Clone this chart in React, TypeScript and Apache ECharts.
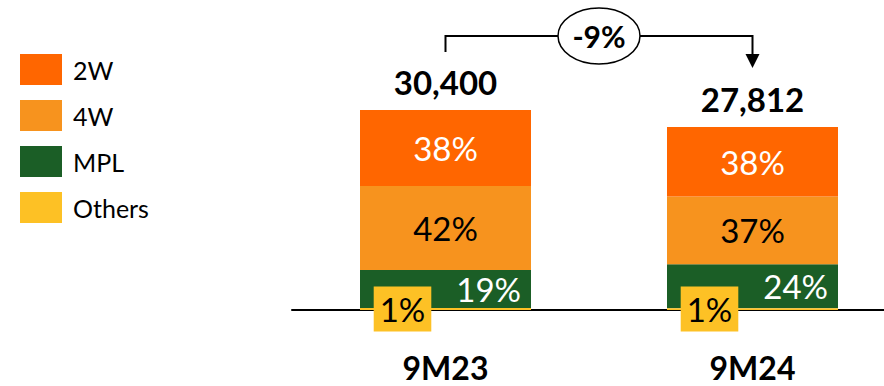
import React, { useEffect, useRef } from "react";
import * as echarts from "echarts";

// Periods and total volumes
const categories = ["9M23", "9M24"];
const totals = [30400, 27812];

// Segment shares (%) per period
const share2W = [38, 38];
const share4W = [42, 37];
const shareMPL = [19, 24];
const shareOthers = [1, 1];

const seriesNames = ["2W", "4W", "MPL", "Others"];
const colors = ["#FF6600", "#F7931E", "#1B5E26", "#FDC125"];

const FONT = "Lato, 'Noto Sans', sans-serif";

const toValues = (shares: number[]) =>
  shares.map((s, i) => ({ value: (totals[i] * s) / 100, pct: s }));

export default function App() {
  const ref = useRef<HTMLDivElement>(null);

  useEffect(() => {
    if (!ref.current) return;
    const chart = echarts.init(ref.current, null, { renderer: "svg" });

    const pctLabel = (color: string, extra: any = {}) => ({
      show: true,
      color,
      fontSize: 33,
      fontFamily: FONT,
      formatter: (p: any) => `${p.data.pct}%`,
      ...extra,
    });

    const barBase = {
      type: "bar" as const,
      stack: "total",
      barWidth: 171,
    };

    chart.setOption({
      animation: false,
      textStyle: { fontFamily: FONT },
      legend: {
        orient: "vertical",
        left: 20,
        top: 54,
        padding: 0,
        itemWidth: 42,
        itemHeight: 31,
        itemGap: 15,
        icon: "rect",
        data: seriesNames,
        selectedMode: false,
        textStyle: {
          fontSize: 25,
          color: "#000",
          fontFamily: FONT,
          padding: [0, 0, 0, 6],
        },
      },
      // The grid runs past the right edge so the baseline reaches the border
      grid: {
        left: 292,
        width: 614,
        top: 110,
        bottom: 76,
        containLabel: false,
        outerBoundsMode: "none",
      },
      xAxis: {
        type: "category",
        data: categories,
        axisTick: { show: false },
        axisLine: { lineStyle: { color: "#000", width: 2 } },
        axisLabel: {
          color: "#000",
          fontSize: 32,
          fontWeight: "bold",
          fontFamily: FONT,
          margin: 41,
        },
      },
      yAxis: {
        type: "value",
        min: 0,
        max: Math.max(...totals),
        show: false,
        splitLine: { show: false },
      },
      series: [
        {
          ...barBase,
          name: "Others",
          data: toValues(shareOthers),
          itemStyle: { color: colors[3] },
          z: 5,
          label: pctLabel("#000", {
            position: "inside",
            offset: [-43, 0],
            backgroundColor: colors[3],
            padding: [6, 6, 6, 6],
            lineHeight: 33,
          }),
        },
        {
          ...barBase,
          name: "MPL",
          data: toValues(shareMPL),
          itemStyle: { color: colors[2] },
          label: pctLabel("#fff", { position: "insideRight", distance: 10 }),
        },
        {
          ...barBase,
          name: "4W",
          data: toValues(share4W),
          itemStyle: { color: colors[1] },
          label: pctLabel("#000", { position: "inside" }),
        },
        {
          ...barBase,
          name: "2W",
          data: toValues(share2W),
          itemStyle: { color: colors[0] },
          label: pctLabel("#fff", { position: "inside" }),
        },
        {
          ...barBase,
          name: "Total",
          data: totals.map((t) => ({ value: 0, total: t })),
          itemStyle: { color: "transparent" },
          label: {
            show: true,
            position: "top",
            distance: 12,
            color: "#000",
            fontSize: 33,
            fontWeight: "bold",
            fontFamily: FONT,
            formatter: (p: any) => p.data.total.toLocaleString("en-US"),
          },
        },
      ],
    });

    // Change bracket between the two bars
    const x1 = chart.convertToPixel({ xAxisIndex: 0 }, categories[0]) as number;
    const x2 = chart.convertToPixel({ xAxisIndex: 0 }, categories[1]) as number;
    const mid = (x1 + x2) / 2;
    const change = Math.round((totals[1] / totals[0] - 1) * 100);
    const yLine = 36;

    chart.setOption({
      graphic: [
        {
          type: "polyline",
          shape: {
            points: [
              [x1, 52],
              [x1, yLine],
              [x2, yLine],
              [x2, 56],
            ],
          },
          style: { stroke: "#000", lineWidth: 2, fill: null },
        },
        {
          type: "polygon",
          shape: {
            points: [
              [x2 - 7, 54],
              [x2 + 7, 54],
              [x2, 68],
            ],
          },
          style: { fill: "#000" },
        },
        {
          type: "ellipse",
          shape: { cx: mid, cy: yLine, rx: 41, ry: 28 },
          style: { fill: "#fff", stroke: "#000", lineWidth: 1.5 },
        },
        {
          type: "text",
          x: mid,
          y: yLine,
          style: {
            text: `${change}%`,
            fontSize: 30,
            fontWeight: "bold",
            fontFamily: FONT,
            fill: "#000",
            align: "center",
            verticalAlign: "middle",
          },
        },
      ],
    });

    return () => chart.dispose();
  }, []);

  return (
    <div
      ref={ref}
      style={{ position: "absolute", left: 0, top: 0, width: 884, height: 386 }}
    />
  );
}
